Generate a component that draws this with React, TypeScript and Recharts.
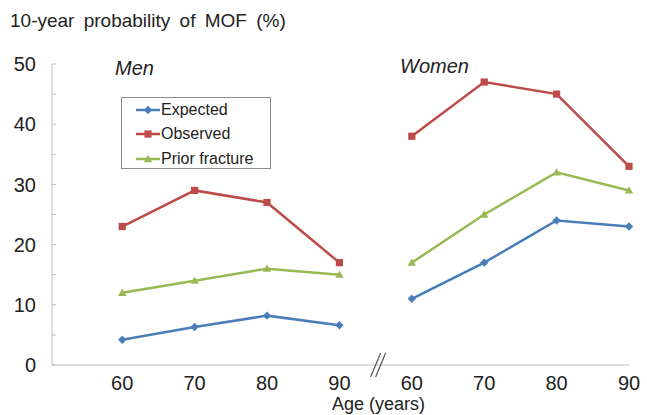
import { LineChart, Line, XAxis, YAxis, Legend, ReferenceDot } from "recharts";

const ages = ["60", "70", "80", "90"];
const menExpected = [4.2, 6.3, 8.2, 6.6];
const menObserved = [23, 29, 27, 17];
const menPrior = [12, 14, 16, 15];
const womenExpected = [11, 17, 24, 23];
const womenObserved = [38, 47, 45, 33];
const womenPrior = [17, 25, 32, 29];
const yMajorTicks = [0, 10, 20, 30, 40, 50];

const BLUE = "#4a7ebb";
const RED = "#be4b48";
const GREEN = "#98b954";
const AXIS = "#bdbdbd";
const FONT = "'Liberation Sans', Arial, sans-serif";

const xLabels = [...ages, ...ages];
const yTicks = yMajorTicks.flatMap((t, i) => (i < yMajorTicks.length - 1 ? [t, t + 5] : [t]));

const data = xLabels.map((age, i) => {
  const men = i < ages.length;
  const j = men ? i : i - ages.length;
  return {
    idx: i,
    age,
    menE: men ? menExpected[j] : undefined,
    menO: men ? menObserved[j] : undefined,
    menP: men ? menPrior[j] : undefined,
    womenE: men ? undefined : womenExpected[j],
    womenO: men ? undefined : womenObserved[j],
    womenP: men ? undefined : womenPrior[j],
  };
});

type Shape = "diamond" | "square" | "triangle";

function Marker({ cx, cy, shape, color }: { cx: number; cy: number; shape: Shape; color: string }) {
  if (shape === "diamond") {
    const r = 4.2;
    return <polygon points={`${cx},${cy - r} ${cx + r},${cy} ${cx},${cy + r} ${cx - r},${cy}`} fill={color} />;
  }
  if (shape === "square") {
    const r = 3.6;
    return <rect x={cx - r} y={cy - r} width={r * 2} height={r * 2} fill={color} />;
  }
  const r = 4.2;
  return <polygon points={`${cx},${cy - r} ${cx + r},${cy + r * 0.75} ${cx - r},${cy + r * 0.75}`} fill={color} />;
}

const dotFor = (shape: Shape, color: string) => (p: any) => {
  if (p.cx == null || p.cy == null || p.value == null) return <g key={p.key} />;
  return <Marker key={p.key} cx={p.cx} cy={p.cy} shape={shape} color={color} />;
};

const seriesInfo: { name: string; color: string; shape: Shape }[] = [
  { name: "Expected", color: BLUE, shape: "diamond" },
  { name: "Observed", color: RED, shape: "square" },
  { name: "Prior fracture", color: GREEN, shape: "triangle" },
];

function LegendBox() {
  return (
    <div
      style={{
        width: 150,
        height: 72,
        border: "1px solid #8f8f8f",
        background: "#fff",
        fontFamily: FONT,
        fontSize: 16,
        color: "#222",
        boxSizing: "border-box",
      }}
    >
      {seriesInfo.map((s) => (
        <div key={s.name} style={{ display: "flex", alignItems: "center", height: 24.3, paddingLeft: 14 }}>
          <svg width={24} height={12} style={{ marginRight: 1 }}>
            <line x1={0} y1={6} x2={24} y2={6} stroke={s.color} strokeWidth={2.5} />
            <Marker cx={12} cy={6} shape={s.shape} color={s.color} />
          </svg>
          <span>{s.name}</span>
        </div>
      ))}
    </div>
  );
}

function BreakMark(p: any) {
  const { cx, cy } = p;
  return (
    <g stroke="#555" strokeWidth={1.2}>
      <line x1={cx - 5} y1={cy + 12} x2={cx + 5} y2={cy - 12} />
      <line x1={cx} y1={cy + 12} x2={cx + 10} y2={cy - 12} />
    </g>
  );
}

const textStyle = { position: "absolute" as const, fontFamily: FONT, color: "#222", lineHeight: "20px", whiteSpace: "nowrap" as const };

export default function App() {
  return (
    <div style={{ position: "absolute", left: 0, top: 0, width: 647, height: 415, background: "#fff" }}>
      <div style={{ ...textStyle, left: 10, top: 11, fontSize: 19, wordSpacing: 4 }}>10-year probability of MOF (%)</div>
      <div style={{ ...textStyle, left: 115, top: 58, fontSize: 20, fontStyle: "italic" }}>Men</div>
      <div style={{ ...textStyle, left: 400, top: 56, fontSize: 20, fontStyle: "italic" }}>Women</div>
      <LineChart width={647} height={415} data={data} margin={{ top: 64, right: 18, left: 12, bottom: 0 }}>
        <XAxis
          type="number"
          dataKey="idx"
          domain={[-0.97, 7]}
          ticks={data.map((d) => d.idx)}
          tickFormatter={(v) => xLabels[v] ?? ""}
          interval={0}
          axisLine={{ stroke: AXIS }}
          tickLine={false}
          tickSize={0}
          tickMargin={11}
          height={50}
          tick={{ fill: "#222", fontSize: 20, fontFamily: FONT }}
          label={{ value: "Age (years)", position: "insideBottom", offset: 5, dx: 38, fill: "#222", fontSize: 18, fontFamily: FONT }}
        />
        <YAxis
          domain={[0, 50]}
          ticks={yTicks}
          interval={0}
          width={40}
          tickFormatter={(v) => (v % 10 === 0 ? String(v) : "")}
          axisLine={{ stroke: AXIS }}
          tickLine={{ stroke: AXIS }}
          tickSize={-4}
          tickMargin={20}
          tick={{ fill: "#222", fontSize: 20, fontFamily: FONT }}
        />
        <Legend
          layout="vertical"
          align="center"
          verticalAlign="middle"
          content={() => <LegendBox />}
          wrapperStyle={{ left: 121, top: 97, width: 152, height: 74 }}
        />
        <ReferenceDot x={3.5} y={0} ifOverflow="visible" shape={BreakMark} />
        <Line dataKey="menE" name="Expected" stroke={BLUE} strokeWidth={2.5} dot={dotFor("diamond", BLUE)} isAnimationActive={false} />
        <Line dataKey="menO" name="Observed" stroke={RED} strokeWidth={2.5} dot={dotFor("square", RED)} isAnimationActive={false} />
        <Line dataKey="menP" name="Prior fracture" stroke={GREEN} strokeWidth={2.5} dot={dotFor("triangle", GREEN)} isAnimationActive={false} />
        <Line dataKey="womenE" name="Expected" stroke={BLUE} strokeWidth={2.5} dot={dotFor("diamond", BLUE)} isAnimationActive={false} legendType="none" />
        <Line dataKey="womenO" name="Observed" stroke={RED} strokeWidth={2.5} dot={dotFor("square", RED)} isAnimationActive={false} legendType="none" />
        <Line dataKey="womenP" name="Prior fracture" stroke={GREEN} strokeWidth={2.5} dot={dotFor("triangle", GREEN)} isAnimationActive={false} legendType="none" />
      </LineChart>
    </div>
  );
}
